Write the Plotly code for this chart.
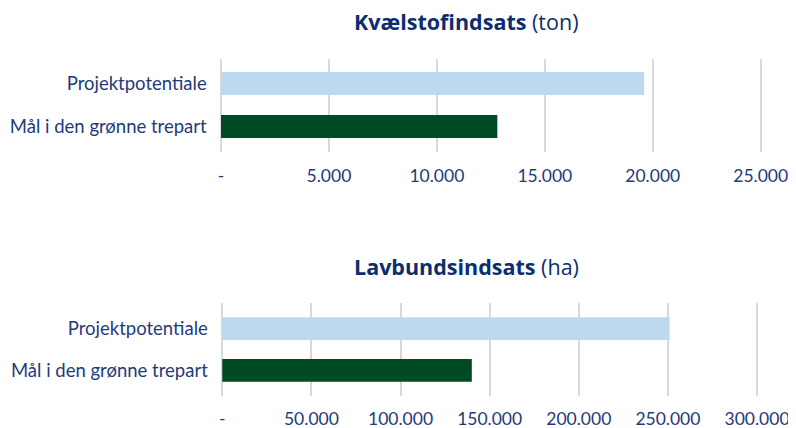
import plotly.graph_objects as go

categories = ["Projektpotentiale", "Mål i den grønne trepart"]
kvaelstof_values = [19600, 12800]
lavbund_values = [251000, 140000]
kvaelstof_ticks = [0, 5000, 10000, 15000, 20000, 25000]
kvaelstof_ticktext = ["-", "5.000", "10.000", "15.000", "20.000", "25.000"]
lavbund_ticks = [0, 50000, 100000, 150000, 200000, 250000, 300000]
lavbund_ticktext = ["-", "50.000", "100.000", "150.000", "200.000", "250.000", "300.000"]
bar_colors = ["#BDD9F0", "#004A24"]

# page has an 8px body margin; figure is sized to fit the window
OFF = 8
W, H = 788, 420
FONT = "Lato"
TITLE_FONT = "Open Sans"
LABEL_COLOR = "#1F3B7A"
TITLE_COLOR = "#0B2E6F"

fig = go.Figure()
fig.add_trace(go.Bar(y=categories, x=kvaelstof_values, orientation="h",
                     marker=dict(color=bar_colors, line=dict(width=0)),
                     width=0.535, xaxis="x", yaxis="y", hoverinfo="x+y"))
fig.add_trace(go.Bar(y=categories, x=lavbund_values, orientation="h",
                     marker=dict(color=bar_colors, line=dict(width=0)),
                     width=0.545, xaxis="x2", yaxis="y2", hoverinfo="x+y"))

def px_x(p):
    return (p - OFF) / W

def px_y(p):
    return 1 - (p - OFF) / H

axis_font = dict(family=FONT, size=17.5, color=LABEL_COLOR)
cat_font = dict(family=FONT, size=18.5, color=LABEL_COLOR)
fig.update_layout(
    template="none",
    width=W, height=H,
    margin=dict(l=0, r=0, t=0, b=0, pad=0),
    paper_bgcolor="white", plot_bgcolor="white",
    showlegend=False,
    font=dict(family=FONT, color=LABEL_COLOR),
    xaxis=dict(domain=[px_x(216.7), px_x(765.0)], range=[-200, 25200],
               tickvals=kvaelstof_ticks, ticktext=kvaelstof_ticktext,
               showgrid=True, gridcolor="#D9D9D9", gridwidth=1.5, zeroline=False,
               showline=False, ticks="", tickfont=axis_font, anchor="y",
               automargin=False, ticklabelstandoff=11, fixedrange=True),
    yaxis=dict(domain=[px_y(152), px_y(59)], range=[1.59, -0.57],
               showgrid=False, zeroline=False, showline=False, ticks="",
               tickfont=cat_font, automargin=False,
               ticklabelstandoff=9, anchor="x", fixedrange=True),
    xaxis2=dict(domain=[px_x(217.8), px_x(761.5)], range=[-2500, 302500],
                tickvals=lavbund_ticks, ticktext=lavbund_ticktext,
                showgrid=True, gridcolor="#D9D9D9", gridwidth=1.5, zeroline=False,
                showline=False, ticks="", tickfont=axis_font, anchor="y2",
                automargin=False, ticklabelstandoff=11, fixedrange=True),
    yaxis2=dict(domain=[px_y(395.7), px_y(303.3)], range=[1.61, -0.61],
                showgrid=False, zeroline=False, showline=False, ticks="",
                tickfont=cat_font, automargin=False,
                ticklabelstandoff=9, anchor="x2", fixedrange=True),
    annotations=[
        dict(text="<b>Kvælstofindsats</b> (ton)", x=px_x(466), y=px_y(22),
             xref="paper", yref="paper", showarrow=False, xanchor="center",
             yanchor="middle", font=dict(family=TITLE_FONT, size=21.5, color=TITLE_COLOR)),
        dict(text="<b>Lavbundsindsats</b> (ha)", x=px_x(466), y=px_y(266.7),
             xref="paper", yref="paper", showarrow=False, xanchor="center",
             yanchor="middle", font=dict(family=TITLE_FONT, size=21.5, color=TITLE_COLOR)),
    ],
)

fig.write_html("out.html")
